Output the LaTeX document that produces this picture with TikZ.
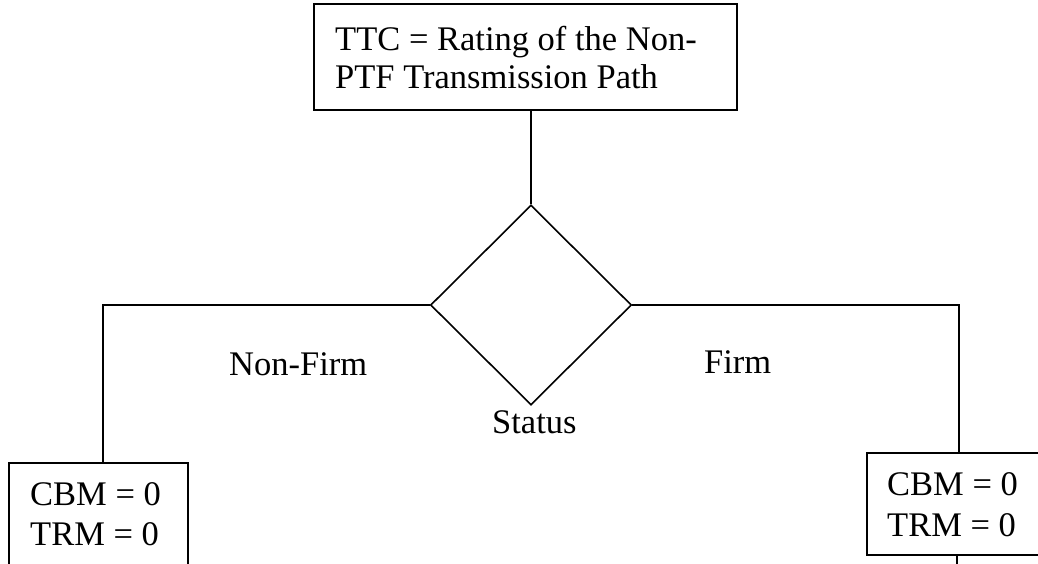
\documentclass[tikz,border=0pt]{standalone}
\usepackage{fontspec}
\setmainfont{Liberation Serif}
\usetikzlibrary{shapes.geometric,calc}
\begin{document}
\begin{tikzpicture}[x=1pt,y=-1pt,
  line/.style={line width=1.6pt},
  boxnode/.style={draw,line width=1.6pt,rectangle,inner sep=0pt},
  txt/.style={font=\fontsize{34.5}{40}\selectfont,inner sep=0pt,anchor=base west},
  decision/.style={draw,line width=1.6pt,diamond,aspect=1,inner sep=0pt,minimum width=201pt,minimum height=200pt}]
\clip (0,0) rectangle (1038,563);
% boxes
\node[boxnode,minimum width=423pt,minimum height=106pt] (ttc) at (525.5,57) {};
\node[decision] (status) at (531,305) {};
\node[boxnode,minimum width=179pt,minimum height=110pt] (lbox) at (98.5,518) {};
\node[boxnode,minimum width=184pt,minimum height=102pt] (rbox) at (959,504) {};
% texts
\node[txt] (t1) at (335,50) {TTC = Rating of the Non-};
\node[txt] (t2) at (335,88) {PTF Transmission Path};
\node[txt] (l1) at (30,505) {CBM = 0};
\node[txt] (l2) at (30,545) {TRM = 0};
\node[txt] (r1) at (887,495) {CBM = 0};
\node[txt] (r2) at (887,536) {TRM = 0};
\node[txt] (nf) at (229,375) {Non-Firm};
\node[txt] (fi) at (704,373) {Firm};
\node[txt] (st) at (492,433) {Status};
% connectors
\draw[line] (status.north |- ttc.south) -- (status.north);
\draw[line] (status.west) -| ([xshift=4.5pt]lbox.north);
\draw[line] (status.east) -| (rbox.north);
\coordinate (rend) at ($(rbox.south)+(-2,12)$);
\draw[line] ([xshift=-2pt]rbox.south) -- (rend);
\end{tikzpicture}
\end{document}
